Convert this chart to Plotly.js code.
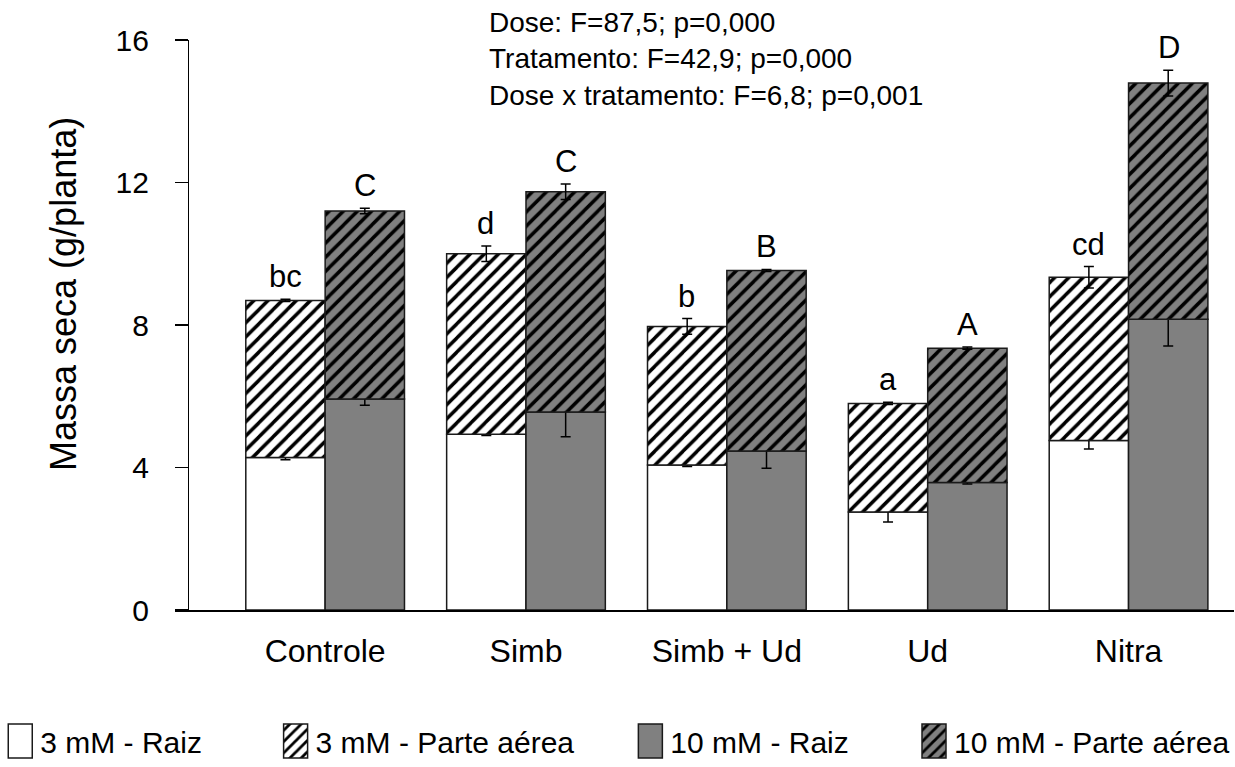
<!DOCTYPE html>
<html>
<head>
<meta charset="utf-8">
<script src="https://cdn.plot.ly/plotly-3.0.1.min.js"></script>
<style>html,body{margin:0;padding:0;background:#fff;}</style>
</head>
<body>
<div id="chart" style="width:1235px;height:767px;"></div>
<script>
// ---- data ----
var categories = ["Controle", "Simb", "Simb + Ud", "Ud", "Nitra"];
var raiz3  = [4.28, 4.93, 4.07, 2.75, 4.76];
var aerea3 = [4.41, 5.07, 3.89, 3.05, 4.58];
var raiz10  = [5.92, 5.56, 4.46, 3.58, 8.16];
var aerea10 = [5.28, 6.18, 5.07, 3.77, 6.63];
var errRaiz3  = [0.06, 0.03, 0.04, 0.28, 0.24];
var errAerea3 = [0.03, 0.22, 0.22, 0.03, 0.30];
var errRaiz10  = [0.17, 0.70, 0.48, 0.04, 0.75];
var errAerea10 = [0.08, 0.22, 0.03, 0.03, 0.36];
var letters3  = ["bc", "d", "b", "a", "cd"];
var letters10 = ["C", "C", "B", "A", "D"];
var seriesNames = ["3 mM - Raiz", "3 mM - Parte aérea", "10 mM - Raiz", "10 mM - Parte aérea"];
var statsLines = ["Dose: F=87,5; p=0,000", "Tratamento: F=42,9; p=0,000", "Dose x tratamento: F=6,8; p=0,001"];
var yTitle = "Massa seca (g/planta)";
var yTicks = [0, 4, 8, 12, 16];

var FONT = "Liberation Sans, Arial, sans-serif";
var GRAY = "#808080";
var outline = {color: "#1a1a1a", width: 1.5};
function eb(arr) { return {type: "data", array: arr, visible: true, color: "#000", thickness: 1.5, width: 5}; }

var traces = [
  {type: "bar", name: seriesNames[0], x: categories, y: raiz3, offsetgroup: "3",
   marker: {color: "#ffffff", line: outline}, error_y: eb(errRaiz3), legend: "legend"},
  {type: "bar", name: seriesNames[1], x: categories, y: aerea3, base: raiz3, offsetgroup: "3",
   marker: {color: "#ffffff", line: outline, pattern: {shape: "/", bgcolor: "#ffffff", fgcolor: "#000000", size: 10, solidity: 0.35}},
   error_y: eb(errAerea3), legend: "legend2"},
  {type: "bar", name: seriesNames[2], x: categories, y: raiz10, offsetgroup: "10",
   marker: {color: GRAY, line: outline}, error_y: eb(errRaiz10), legend: "legend3"},
  {type: "bar", name: seriesNames[3], x: categories, y: aerea10, base: raiz10, offsetgroup: "10",
   marker: {color: GRAY, line: outline, pattern: {shape: "/", bgcolor: GRAY, fgcolor: "#000000", size: 10, solidity: 0.35}},
   error_y: eb(errAerea10), legend: "legend4"}
];

var annotations = [];
for (var i = 0; i < categories.length; i++) {
  annotations.push({x: categories[i], y: raiz3[i] + aerea3[i] + errAerea3[i], xref: "x", yref: "y",
    text: letters3[i], showarrow: false, xshift: -40, yshift: 3, yanchor: "bottom",
    font: {family: FONT, size: 31, color: "#000"}});
  annotations.push({x: categories[i], y: raiz10[i] + aerea10[i] + errAerea10[i], xref: "x", yref: "y",
    text: letters10[i], showarrow: false, xshift: 40, yshift: 3, yanchor: "bottom",
    font: {family: FONT, size: 31, color: "#000"}});
}
annotations.push({xref: "paper", yref: "paper", x: 0.295, y: 1.061, xanchor: "left", yanchor: "top",
  align: "left", showarrow: false, text: statsLines.join("<br>"),
  font: {family: FONT, size: 28, color: "#000"}});
annotations.push({xref: "paper", yref: "paper", x: -0.106, y: 0.554, xanchor: "center", yanchor: "middle",
  textangle: -90, showarrow: false, text: yTitle,
  font: {family: FONT, size: 36, color: "#000"}});

function legendAt(xp) {
  return {orientation: "h", x: xp, xanchor: "left", y: -0.23, yanchor: "middle",
    font: {family: FONT, size: 30, color: "#000"}, bgcolor: "rgba(0,0,0,0)", itemwidth: 30, tracegroupgap: 0};
}

var layout = {
  width: 1235, height: 767,
  margin: {l: 170, r: 0, t: 40, b: 155},
  paper_bgcolor: "#fff", plot_bgcolor: "#fff",
  barmode: "group", bargap: 0.21, bargroupgap: 0,
  font: {family: FONT, color: "#000"},
  showlegend: true,
  legend: legendAt(-0.165),
  legend2: legendAt(0.095),
  legend3: legendAt(0.43),
  legend4: legendAt(0.698),
  xaxis: {type: "category", range: [-0.7475, 4.525], showline: true, linecolor: "#000", linewidth: 1.5,
    ticks: "", showgrid: false, zeroline: false, ticklabelstandoff: 12,
    tickfont: {family: FONT, size: 32, color: "#000"}},
  yaxis: {range: [0, 16], tickvals: yTicks, ticktext: yTicks.map(String), anchor: "free", position: 0.0122,
    showline: true, linecolor: "#000", linewidth: 1.5, ticks: "outside", ticklen: 13, tickwidth: 1.5, tickcolor: "#000",
    showgrid: false, zeroline: false, ticklabelstandoff: 20,
    tickfont: {family: FONT, size: 30, color: "#000"}},
  annotations: annotations
};

Plotly.newPlot("chart", traces, layout, {displayModeBar: false, staticPlot: true}).then(function () {
  document.querySelectorAll(".legendpoints path").forEach(function (p) {
    p.setAttribute("d", "M12,17H-12V-17H12Z");
  });
});
</script>
</body>
</html>
